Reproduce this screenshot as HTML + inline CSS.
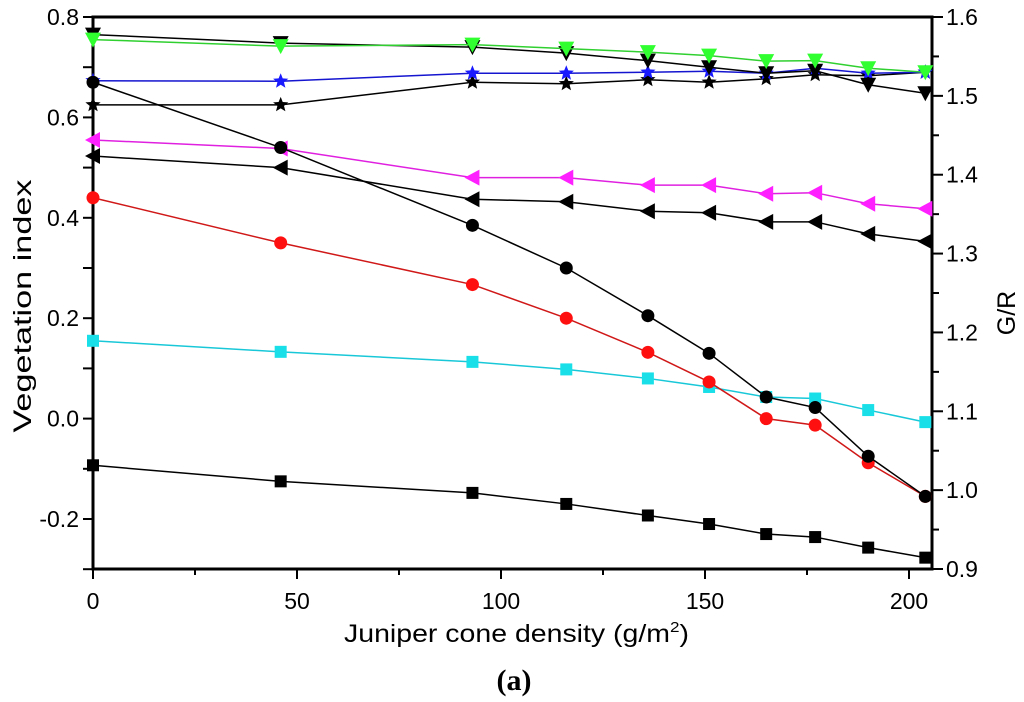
<!DOCTYPE html>
<html><head><meta charset="utf-8"><style>
body{margin:0;background:#fff;}
svg text{font-family:"Liberation Sans",sans-serif;fill:#000;}
</style></head><body>
<svg id="chart" width="1024" height="697" xmlns="http://www.w3.org/2000/svg">
<g id="axes"></g><g id="series"></g>
<text x="344" y="642" font-size="25" textLength="345" lengthAdjust="spacingAndGlyphs">Juniper cone density (g/m<tspan dy="-10" font-size="15">2</tspan><tspan dy="10">)</tspan></text>
<text x="0" y="0" font-size="25" text-anchor="middle" textLength="253" lengthAdjust="spacingAndGlyphs" transform="translate(31,306) rotate(-90)">Vegetation index</text>
<text x="0" y="0" font-size="25" text-anchor="middle" transform="translate(1015,313) rotate(-90)">G/R</text>
<text x="514" y="690" font-size="30" font-weight="bold" text-anchor="middle" style="font-family:'Liberation Serif',serif">(a)</text>
</svg>
<script>
const xs = [0,46,93,116,136,151,165,177,190,204];
const blackCircle = [0.67,0.54,0.385,0.3,0.205,0.13,0.043,0.022,-0.075,-0.155];
const redCircle = [0.44,0.35,0.267,0.2,0.132,0.073,0.0,-0.013,-0.088,-0.155];
const cyanSquare = [0.155,0.133,0.113,0.098,0.08,0.063,0.043,0.04,0.017,-0.007];
const blackSquare = [-0.093,-0.125,-0.148,-0.17,-0.193,-0.21,-0.23,-0.236,-0.257,-0.277];
const magentaTri = [0.555,0.538,0.48,0.48,0.465,0.465,0.448,0.45,0.428,0.418];
const blackTri = [0.523,0.5,0.437,0.432,0.413,0.41,0.392,0.392,0.368,0.353];
const greenDown = [0.755,0.742,0.745,0.737,0.73,0.723,0.712,0.713,0.698,0.69];
const blackDown = [0.765,0.748,0.74,0.728,0.713,0.7,0.688,0.693,0.665,0.648];
const blueStar = [0.673,0.672,0.688,0.688,0.69,0.692,0.688,0.698,0.688,0.69];
const blackStar = [0.625,0.625,0.67,0.667,0.675,0.67,0.677,0.685,0.683,0.69];
const xTicks = [0,50,100,150,200];
const yTicks = [-0.2,0.0,0.2,0.4,0.6,0.8];
const yTickLabels = ["-0.2","0.0","0.2","0.4","0.6","0.8"];
const y2Ticks = [0.9,1.0,1.1,1.2,1.3,1.4,1.5,1.6];

const NS="http://www.w3.org/2000/svg";
const L=93,R=932,T=17,B=569;
const sx=v=>L+v*4.08;
const sy=v=>T+(0.8-v)*502;
const sy2=v=>T+(1.6-v)*(B-T)/0.7;
function mk(tag,attrs,parent){const e=document.createElementNS(NS,tag);for(const k in attrs)e.setAttribute(k,attrs[k]);parent.appendChild(e);return e;}
const ax=document.getElementById('axes');
let fr=mk('rect',{x:L,y:T,width:R-L,height:B-T,fill:'none',stroke:'#000','stroke-width':3},ax);


for(let v=0;v<=200;v+=25){const major=v%50===0;
 let t=mk('line',{x1:sx(v),x2:sx(v),y1:B,y2:B+(major?10:6),stroke:'#000','stroke-width':2},ax);
 
 }
xTicks.forEach(v=>{let t=mk('text',{x:sx(v),y:609,'font-size':23,'text-anchor':'middle'},ax);t.textContent=v;
 
 });
for(let v=-0.3;v<=0.801;v+=0.1){
 let t=mk('line',{x1:L-10,x2:L,y1:sy(v),y2:sy(v),stroke:'#000','stroke-width':2},ax);
 
 }
yTicks.forEach((v,i)=>{let t=mk('text',{x:L-14,y:sy(v)+8,'font-size':23,'text-anchor':'end'},ax);t.textContent=yTickLabels[i];
 
 });
for(let v=0.9;v<=1.601;v+=0.05){const major=Math.abs(v*10-Math.round(v*10))<0.01;
 let t=mk('line',{x1:R,x2:R+(major?11:7),y1:sy2(v),y2:sy2(v),stroke:'#000','stroke-width':2},ax);
 
 }
y2Ticks.forEach(v=>{let t=mk('text',{x:R+14,y:sy2(v)+8,'font-size':23},ax);t.textContent=v.toFixed(1);
 
 });

const sg=document.getElementById('series');
function marker(shape,x,y,c,g){
 const r=6.5;
 if(shape==='circle')return mk('circle',{cx:x,cy:y,r:r,fill:c},g);
 if(shape==='square')return mk('rect',{x:x-6,y:y-6,width:12,height:12,fill:c},g);
 if(shape==='left')return mk('polygon',{points:`${x-8},${y} ${x+7},${y-8} ${x+7},${y+8}`,fill:c},g);
 if(shape==='down')return mk('polygon',{points:`${x-8},${y-7} ${x+8},${y-7} ${x},${y+8}`,fill:c},g);
 let p=[];for(let i=0;i<10;i++){const a=-Math.PI/2+i*Math.PI/5,rr=i%2?3.5:8;p.push((x+rr*Math.cos(a)).toFixed(1)+','+(y+rr*Math.sin(a)).toFixed(1));}
 return mk('polygon',{points:p.join(' '),fill:c},g);
}
function series(name,vals,shape,line,fill){
 const g=mk('g',{},sg);
 
 
 mk('polyline',{points:xs.map((x,i)=>sx(x)+','+sy(vals[i])).join(' '),fill:'none',stroke:line,'stroke-width':1.5},g);
 xs.forEach((x,i)=>{const m=marker(shape,sx(x),sy(vals[i]),fill,g);
  
  });
}
series('black-square-series',blackSquare,'square','#000','#000');
series('cyan-square-series',cyanSquare,'square','#19c8d8','#19e0e8');
series('black-triangle-series',blackTri,'left','#000','#000');
series('magenta-triangle-series',magentaTri,'left','#e020e0','#ff20ff');
series('black-star-series',blackStar,'star','#000','#000');
series('blue-star-series',blueStar,'star','#1515d0','#1a1aff');
series('black-down-series',blackDown,'down','#000','#000');
series('green-down-series',greenDown,'down','#30d030','#30ff30');
series('red-circle-series',redCircle,'circle','#d01818','#ff1010');
series('black-circle-series',blackCircle,'circle','#000','#000');
</script>
</body></html>
